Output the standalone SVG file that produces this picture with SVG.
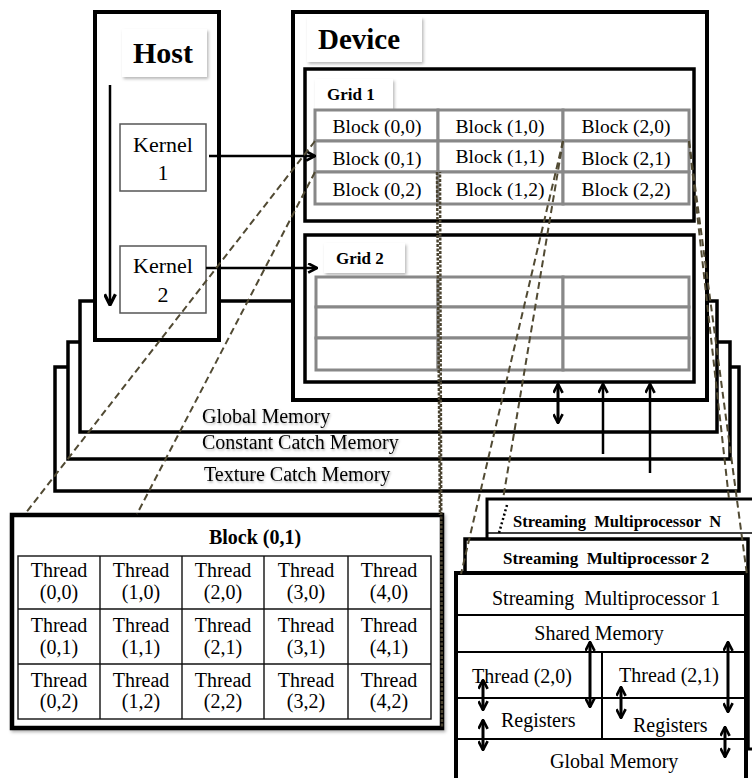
<svg xmlns="http://www.w3.org/2000/svg" width="752" height="778" viewBox="0 0 752 778">
  <defs>
    <style>
      text { font-family: "Liberation Serif", "Times New Roman", serif; fill: #000; }
      .b { font-weight: bold; }
      .pre { white-space: pre; }
      .frame { fill: #fff; stroke: #000; stroke-width: 4; }
      .mem { fill: #fff; stroke: #000; stroke-width: 3.5; }
      .grid { fill: #fff; stroke: #000; stroke-width: 3.5; }
      .cell { fill: #fff; stroke: #888; stroke-width: 3; }
      .kern { fill: #fff; stroke: #555; stroke-width: 1.5; }
      .tag { fill: #fff; filter: url(#shadow); }
      .tbl { fill: none; stroke: #111; stroke-width: 1.4; }
      .sep { fill: none; stroke: #000; stroke-width: 2; }
      .arr { fill: none; stroke: #000; stroke-width: 2.5; marker-end: url(#chev); }
      .dbl { fill: none; stroke: #000; stroke-width: 3; marker-start: url(#chev); marker-end: url(#chev); }
      .dash { fill: none; stroke: #514a33; stroke-width: 2; stroke-dasharray: 7 4; }
      .dot { fill: none; stroke: #4a4330; stroke-width: 2.5; stroke-dasharray: 3 1.5; }
      .memtxt { font-size: 20px; filter: url(#tshadow); }
    </style>
    <marker id="chev" viewBox="0 0 10 10" refX="9" refY="5" markerWidth="11" markerHeight="11"
            markerUnits="userSpaceOnUse" orient="auto-start-reverse">
      <path d="M1,0.8 L9,5 L1,9.2" fill="none" stroke="#000" stroke-width="2.4"/>
    </marker>
    <marker id="head" viewBox="0 0 12 12" refX="11" refY="6" markerWidth="13" markerHeight="13"
            markerUnits="userSpaceOnUse" orient="auto">
      <path d="M1,1 L11,6 L1,11" fill="none" stroke="#000" stroke-width="3"/>
    </marker>
    <filter id="shadow" x="-20%" y="-20%" width="150%" height="160%">
      <feDropShadow dx="1.5" dy="2" stdDeviation="1.5" flood-color="#000" flood-opacity="0.28"/>
    </filter>
    <filter id="tshadow" x="-5%" y="-20%" width="115%" height="150%">
      <feDropShadow dx="1" dy="1.5" stdDeviation="1" flood-color="#000" flood-opacity="0.3"/>
    </filter>
  </defs>

  <rect width="752" height="778" fill="#fff"/>

  <!-- memory layers stacked behind host and device -->
  <g id="texture-memory">
    <rect x="55" y="367" width="684" height="124" class="mem"/>
    <text x="204" y="481" class="memtxt">Texture Catch Memory</text>
  </g>
  <g id="constant-memory">
    <rect x="68" y="342" width="662" height="117" class="mem"/>
    <text x="202" y="449" class="memtxt">Constant Catch Memory</text>
  </g>
  <g id="global-memory">
    <rect x="80" y="301" width="637" height="131" class="mem"/>
    <text x="202" y="423" class="memtxt">Global Memory</text>
  </g>

  <!-- host -->
  <g id="host">
    <rect x="95" y="12" width="124" height="328" class="frame"/>
    <rect x="122" y="29" width="85" height="48" class="tag"/>
    <text x="163" y="63" font-size="30" class="b" text-anchor="middle">Host</text>
  </g>
  <g id="kernel1">
    <rect x="120" y="124" width="86" height="67" class="kern"/>
    <text x="163" y="152" font-size="22" text-anchor="middle">Kernel</text>
    <text x="163" y="180" font-size="22" text-anchor="middle">1</text>
  </g>
  <g id="kernel2">
    <rect x="120" y="246" width="86" height="67" class="kern"/>
    <text x="163" y="273" font-size="22" text-anchor="middle">Kernel</text>
    <text x="163" y="302" font-size="22" text-anchor="middle">2</text>
  </g>

  <!-- device -->
  <g id="device">
    <rect x="293" y="12" width="414" height="388" class="frame"/>
    <rect x="307" y="17" width="115" height="45" class="tag"/>
    <text x="318" y="49" font-size="29" class="b">Device</text>
  </g>

  <g id="grid1">
    <rect x="305" y="69" width="389" height="152" class="grid"/>
    <rect x="315" y="79" width="78" height="30" class="tag"/>
    <text x="327" y="100" font-size="17" class="b">Grid 1</text>
    <rect x="315" y="110" width="123" height="31" class="cell"/>
    <rect x="438" y="110" width="125" height="31" class="cell"/>
    <rect x="563" y="110" width="126" height="31" class="cell"/>
    <rect x="315" y="141" width="123" height="31" class="cell"/>
    <rect x="438" y="141" width="125" height="31" class="cell"/>
    <rect x="563" y="141" width="126" height="31" class="cell"/>
    <rect x="315" y="172" width="123" height="32" class="cell"/>
    <rect x="438" y="172" width="125" height="32" class="cell"/>
    <rect x="563" y="172" width="126" height="32" class="cell"/>
    <g font-size="19.5" text-anchor="middle">
      <text x="377" y="133">Block (0,0)</text>
      <text x="500" y="133">Block (1,0)</text>
      <text x="626" y="133">Block (2,0)</text>
      <text x="377" y="165">Block (0,1)</text>
      <text x="500" y="163">Block (1,1)</text>
      <text x="626" y="165">Block (2,1)</text>
      <text x="377" y="196">Block (0,2)</text>
      <text x="500" y="196">Block (1,2)</text>
      <text x="626" y="196">Block (2,2)</text>
    </g>
  </g>

  <g id="grid2">
    <rect x="305" y="235" width="389" height="147" class="grid"/>
    <rect x="324" y="243" width="81" height="30" class="tag"/>
    <text x="336" y="264" font-size="17" class="b">Grid 2</text>
    <rect x="316" y="277" width="122" height="30" class="cell"/>
    <rect x="438" y="277" width="125" height="30" class="cell"/>
    <rect x="563" y="277" width="126" height="30" class="cell"/>
    <rect x="316" y="307" width="122" height="31" class="cell"/>
    <rect x="438" y="307" width="125" height="31" class="cell"/>
    <rect x="563" y="307" width="126" height="31" class="cell"/>
    <rect x="316" y="338" width="122" height="32" class="cell"/>
    <rect x="438" y="338" width="125" height="32" class="cell"/>
    <rect x="563" y="338" width="126" height="32" class="cell"/>
  </g>

  <!-- streaming multiprocessor stack -->
  <g id="sm-n">
    <rect x="487" y="499" width="280" height="250" fill="#fff" stroke="#000" stroke-width="3"/>
    <line x1="487" y1="533" x2="752" y2="533" stroke="#000" stroke-width="1.5"/>
    <text x="513" y="527" font-size="16.5" class="b pre">Streaming  Multiprocessor  N</text>
  </g>
  <g id="sm-2">
    <rect x="465" y="539" width="283" height="208" fill="#fff" stroke="#000" stroke-width="3.5"/>
    <text x="503" y="564" font-size="17" class="b pre">Streaming  Multiprocessor 2</text>
  </g>
  <g id="sm-1">
    <rect x="456" y="573" width="290" height="220" fill="#fff" stroke="#000" stroke-width="4"/>
    <line x1="456" y1="615" x2="746" y2="615" class="sep" stroke-width="2.5"/>
    <line x1="456" y1="652" x2="746" y2="652" class="sep"/>
    <line x1="456" y1="698" x2="746" y2="698" class="sep"/>
    <line x1="456" y1="739" x2="746" y2="739" class="sep"/>
    <line x1="602" y1="652" x2="602" y2="739" class="sep"/>
    <text x="492" y="605" font-size="20" class="pre">Streaming  Multiprocessor 1</text>
    <text x="599" y="640" font-size="20" text-anchor="middle">Shared Memory</text>
    <text x="472" y="683" font-size="20">Thread (2,0)</text>
    <text x="619" y="682" font-size="20">Thread (2,1)</text>
    <text x="501" y="727" font-size="20">Registers</text>
    <text x="633" y="732" font-size="20">Registers</text>
    <text x="550" y="768" font-size="20">Global Memory</text>
  </g>

  <!-- expanded view of one block -->
  <g id="block-detail">
    <rect x="12" y="515" width="430" height="213" fill="#fff" stroke="#000" stroke-width="4.5" filter="url(#shadow)"/>
    <text x="255" y="544" font-size="20" class="b" text-anchor="middle">Block (0,1)</text>
    <rect x="18" y="556" width="413" height="163" class="tbl" fill="#fff"/>
    <line x1="100" y1="556" x2="100" y2="719" class="tbl"/>
    <line x1="182" y1="556" x2="182" y2="719" class="tbl"/>
    <line x1="264" y1="556" x2="264" y2="719" class="tbl"/>
    <line x1="348" y1="556" x2="348" y2="719" class="tbl"/>
    <line x1="18" y1="609" x2="431" y2="609" class="tbl"/>
    <line x1="18" y1="664" x2="431" y2="664" class="tbl"/>
    <g font-size="20" text-anchor="middle">
      <text x="59" y="577">Thread</text><text x="59" y="599">(0,0)</text>
      <text x="141" y="577">Thread</text><text x="141" y="599">(1,0)</text>
      <text x="223" y="577">Thread</text><text x="223" y="599">(2,0)</text>
      <text x="306" y="577">Thread</text><text x="306" y="599">(3,0)</text>
      <text x="389" y="577">Thread</text><text x="389" y="599">(4,0)</text>
      <text x="59" y="632">Thread</text><text x="59" y="654">(0,1)</text>
      <text x="141" y="632">Thread</text><text x="141" y="654">(1,1)</text>
      <text x="223" y="632">Thread</text><text x="223" y="654">(2,1)</text>
      <text x="306" y="632">Thread</text><text x="306" y="654">(3,1)</text>
      <text x="389" y="632">Thread</text><text x="389" y="654">(4,1)</text>
      <text x="59" y="687">Thread</text><text x="59" y="708">(0,2)</text>
      <text x="141" y="687">Thread</text><text x="141" y="708">(1,2)</text>
      <text x="223" y="687">Thread</text><text x="223" y="708">(2,2)</text>
      <text x="306" y="687">Thread</text><text x="306" y="708">(3,2)</text>
      <text x="389" y="687">Thread</text><text x="389" y="708">(4,2)</text>
    </g>
  </g>

  <!-- connectors -->
  <g id="connectors">
    <!-- kernel launch order and launches -->
    <line x1="110" y1="85" x2="110" y2="305" fill="none" stroke="#000" stroke-width="2.5" marker-end="url(#head)"/>
    <line x1="209" y1="156" x2="315" y2="156" class="arr"/>
    <line x1="206" y1="268" x2="317" y2="268" class="arr"/>

    <!-- grid to memory transfers -->
    <line x1="558" y1="384" x2="558" y2="423" class="dbl"/>
    <line x1="603" y1="454" x2="603" y2="384" class="arr" stroke-width="3"/>
    <line x1="650" y1="473" x2="650" y2="384" class="arr" stroke-width="3"/>

    <!-- transfers inside the multiprocessor -->
    <line x1="590" y1="642" x2="590" y2="707" class="dbl"/>
    <line x1="728" y1="642" x2="728" y2="712" class="dbl"/>
    <line x1="483" y1="680" x2="483" y2="710" class="dbl"/>
    <line x1="483" y1="720" x2="483" y2="750" class="dbl"/>
    <line x1="621" y1="687" x2="621" y2="718" class="dbl"/>
    <line x1="725" y1="727" x2="725" y2="757" class="dbl"/>

    <!-- projection of Block (0,1) onto its thread layout -->
    <line x1="315" y1="141" x2="25" y2="514" class="dash"/>
    <line x1="315" y1="172" x2="137" y2="514" class="dash"/>
    <line x1="437" y1="172" x2="440" y2="515" class="dot"/>
    <line x1="440" y1="172" x2="442" y2="728" class="dot" stroke-dashoffset="2"/>

    <!-- projection of the grid onto the multiprocessors -->
    <line x1="563" y1="141" x2="461" y2="574" class="dash"/>
    <line x1="563" y1="141" x2="503" y2="499" class="dash"/>
    <line x1="507" y1="505" x2="499" y2="533" stroke="#000" stroke-width="2.5" stroke-dasharray="2 2.5"/>
    <line x1="689" y1="141" x2="729" y2="499" class="dash"/>
    <line x1="689" y1="141" x2="747" y2="575" class="dash"/>
  </g>
</svg>
